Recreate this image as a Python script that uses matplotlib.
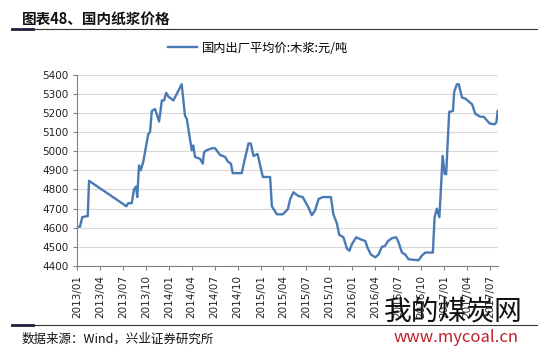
import matplotlib
matplotlib.use("Agg")
import matplotlib.pyplot as plt
import pandas as pd

plt.rcParams['font.family'] = ['Noto Sans CJK SC', 'DejaVu Sans']

# ------------------------------
# Data
# ------------------------------
dates = [
    "2013-01-01", "2013-01-11", "2013-01-20", "2013-02-06", "2013-02-11", "2013-02-16",
    "2013-07-15", "2013-07-22", "2013-08-05", "2013-08-14", "2013-08-22", "2013-08-27",
    "2013-09-03", "2013-09-10", "2013-09-20", "2013-10-10", "2013-10-17", "2013-10-24",
    "2013-11-06", "2013-11-22", "2013-12-03", "2013-12-12", "2013-12-20", "2013-12-29",
    "2014-01-18", "2014-02-20", "2014-03-05", "2014-03-12", "2014-04-01", "2014-04-07",
    "2014-04-14", "2014-05-04", "2014-05-15", "2014-05-20", "2014-05-31", "2014-06-20",
    "2014-07-03", "2014-07-23", "2014-08-12", "2014-08-23", "2014-09-04", "2014-09-11",
    "2014-10-17", "2014-10-27", "2014-11-13", "2014-11-22", "2014-12-03", "2014-12-19",
    "2015-01-09", "2015-02-07", "2015-02-14", "2015-03-06", "2015-03-30", "2015-04-19",
    "2015-04-28", "2015-05-11", "2015-05-31", "2015-06-17", "2015-07-10", "2015-07-23",
    "2015-08-05", "2015-08-19", "2015-09-05", "2015-10-07", "2015-10-17", "2015-10-31",
    "2015-11-09", "2015-11-26", "2015-12-10", "2015-12-20", "2015-12-30", "2016-01-16",
    "2016-02-01", "2016-02-21", "2016-03-01", "2016-03-14", "2016-04-01", "2016-04-14",
    "2016-04-27", "2016-05-10", "2016-05-21", "2016-06-06", "2016-06-23", "2016-07-02",
    "2016-07-16", "2016-07-29", "2016-08-11", "2016-09-20", "2016-10-04", "2016-10-17",
    "2016-11-16", "2016-11-23", "2016-12-02", "2016-12-12", "2016-12-25", "2017-01-02",
    "2017-01-08", "2017-01-20", "2017-02-04", "2017-02-09", "2017-02-20", "2017-02-27",
    "2017-03-12", "2017-03-25", "2017-04-21", "2017-05-04", "2017-05-24", "2017-06-06",
    "2017-06-13", "2017-06-30", "2017-07-19", "2017-07-27", "2017-08-01",
]
prices = [
    4605, 4605, 4655, 4660, 4660, 4845,
    4712, 4728, 4728, 4800, 4815, 4760,
    4925, 4900, 4945, 5090, 5100, 5210,
    5220, 5155, 5265, 5265, 5305, 5285,
    5265, 5350, 5185, 5170, 5005, 5030,
    4970, 4960, 4935, 4995, 5005, 5015,
    5015, 4980, 4970, 4945, 4935, 4885,
    4885, 4945, 5040, 5040, 4975, 4985,
    4865, 4865, 4712, 4670, 4670, 4698,
    4750, 4785, 4765, 4760, 4705, 4665,
    4690, 4750, 4760, 4760, 4670, 4622,
    4563, 4550, 4490, 4480, 4515, 4550,
    4540, 4530, 4495, 4460, 4445, 4460,
    4500, 4505, 4530, 4545, 4550, 4525,
    4470, 4460, 4435, 4430, 4455, 4470,
    4470, 4655, 4700, 4655, 4975, 4880,
    4880, 5205, 5210, 5310, 5350, 5350,
    5280, 5275, 5245, 5195, 5180, 5180,
    5170, 5145, 5140, 5150, 5210,
]
series_label = "国内出厂平均价:木浆:元/吨"
tick_labels = ["2013/01", "2013/04", "2013/07", "2013/10", "2014/01", "2014/04",
               "2014/07", "2014/10", "2015/01", "2015/04", "2015/07", "2015/10",
               "2016/01", "2016/04", "2016/07", "2016/10", "2017/01", "2017/04",
               "2017/07"]
yticks = [4400, 4500, 4600, 4700, 4800, 4900, 5000, 5100, 5200, 5300, 5400]

# ------------------------------
# Plot
# ------------------------------
fig = plt.figure(figsize=(5.38, 3.57), dpi=100)
ax = fig.add_axes([0.144, 0.255, 0.781, 0.536])

x = pd.to_datetime(dates)
line, = ax.plot(x, prices, color='#4a7ab5', lw=1.7, label=series_label)

ax.set_ylim(4400, 5400)
ax.set_yticks(yticks)
ax.set_xlim(pd.Timestamp("2013-01-01"), pd.Timestamp("2017-08-01"))
ax.set_xticks(pd.to_datetime([t.replace("/", "-") + "-01" for t in tick_labels]))
ax.set_xticklabels(tick_labels, rotation=90)
ax.tick_params(axis='both', labelsize=7.5, length=3, color='#808080',
               labelcolor='#222222')
for lab in ax.get_xticklabels() + ax.get_yticklabels():
    lab.set_family('DejaVu Sans')

ax.grid(axis='y', color='#d9d9d9', lw=0.8)
ax.set_axisbelow(True)
for s in ['top', 'right']:
    ax.spines[s].set_visible(False)
for s in ['left', 'bottom']:
    ax.spines[s].set_color('#808080')
    ax.spines[s].set_linewidth(0.8)

fig.legend(handles=[line], loc='center left', bbox_to_anchor=(0.292, 0.865),
           frameon=False, fontsize=8.8, handlelength=2.4, handletextpad=0.4)

# title and source
fig.text(0.04, 0.948, "图表48、国内纸浆价格", fontsize=10.5, fontweight='bold',
         va='center', ha='left', color='#111111')
fig.add_artist(plt.Line2D([0.022, 1.0], [0.92, 0.92], color='#333333', lw=0.8))
fig.add_artist(plt.Line2D([0.022, 0.062], [0.92, 0.92], color='#1f1f3a', lw=2.0))
fig.add_artist(plt.Line2D([0.022, 1.0], [0.09, 0.09], color='#333333', lw=0.8))
fig.add_artist(plt.Line2D([0.022, 0.062], [0.09, 0.09], color='#1f1f3a', lw=2.0))
fig.text(0.04, 0.05, "数据来源：Wind，兴业证券研究所", fontsize=9,
         va='center', ha='left', color='#111111')

# watermark text
fig.text(0.714, 0.128, "我的煤炭网", fontsize=20, va='center', ha='left',
         color='#111111')
fig.text(0.732, 0.055, "www.mycoal.cn", fontsize=12, va='center', ha='left',
         color='#c0202a')

fig.savefig("out.png", dpi=100)
